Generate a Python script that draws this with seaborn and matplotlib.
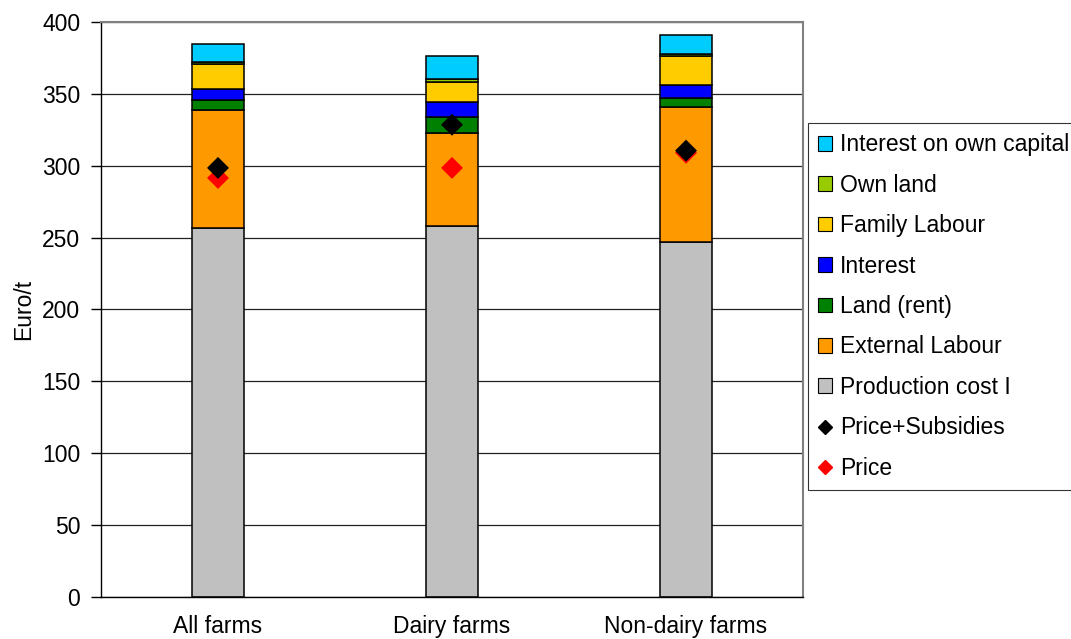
import numpy as np
import pandas as pd
import seaborn as sns
import matplotlib.pyplot as plt
from matplotlib.patches import Patch
from matplotlib.lines import Line2D

# data (Euro/t)
farms = ["All farms", "Dairy farms", "Non-dairy farms"]
production_cost = [257, 258, 247]
external_labour = [81.5, 65, 94]
land_rent = [7.5, 11, 6]
interest = [7.5, 10.5, 9]
family_labour = [17.5, 13.5, 20]
own_land = [1, 2, 1.5]
interest_own_capital = [13, 16, 13.5]
price_subsidies = [298.5, 328.5, 310.5]
price = [291.5, 298.5, 309]

components = [
    ("Production cost I", production_cost, "#C0C0C0"),
    ("External Labour", external_labour, "#FF9900"),
    ("Land (rent)", land_rent, "#008000"),
    ("Interest", interest, "#0000FF"),
    ("Family Labour", family_labour, "#FFCC00"),
    ("Own land", own_land, "#99CC00"),
    ("Interest on own capital", interest_own_capital, "#00CCFF"),
]

sns.set_style("white")
plt.rcParams['font.family'] = ['Liberation Sans', 'DejaVu Sans']
plt.rcParams['font.size'] = 16.5
plt.rcParams['text.color'] = 'black'
plt.rcParams['axes.labelcolor'] = 'black'
plt.rcParams['xtick.color'] = 'black'
plt.rcParams['ytick.color'] = 'black'

fig = plt.figure(figsize=(10.71, 6.39), dpi=100)
ax = fig.add_axes([0.0943, 0.0657, 0.6555, 0.8999])

# stacked bars
bottom = np.zeros(len(farms))
for name, vals, col in components:
    df = pd.DataFrame({"farm": farms, "value": vals})
    sns.barplot(data=df, x="farm", y="value", order=farms, color=col,
                width=0.22, bottom=bottom, edgecolor="black", linewidth=1.1,
                saturation=1, errorbar=None, ax=ax, zorder=2)
    bottom = bottom + np.array(vals)

# price markers
pts = pd.DataFrame({"farm": farms, "ps": price_subsidies, "p": price})
sns.scatterplot(data=pts, x=np.arange(len(farms)), y="p", marker="D", s=125,
                color="#FF0000", edgecolor="none", ax=ax, zorder=3)
sns.scatterplot(data=pts, x=np.arange(len(farms)), y="ps", marker="D", s=125,
                color="black", edgecolor="none", ax=ax, zorder=4)

ax.set_xlim(-0.5, 2.5)
ax.set_ylim(0, 400)
ax.set_yticks(np.arange(0, 401, 50))
ax.set_xticks(range(len(farms)))
ax.set_xticklabels(farms)
ax.set_xticks([-0.5, 0.5, 1.5, 2.5], minor=True)
ax.tick_params(axis="x", which="major", length=0, pad=13)
ax.tick_params(axis="x", which="minor", length=7, width=1, color="black", direction="out")
ax.tick_params(axis="y", length=7, width=1, color="black", direction="out", pad=8, left=True)
ax.set_xlabel("")
ax.set_ylabel("Euro/t", labelpad=5)

ax.yaxis.grid(True, color="#222222", linewidth=0.9)
ax.set_axisbelow(True)
for s in ["top", "right"]:
    ax.spines[s].set_color("#808080")
    ax.spines[s].set_linewidth(1.5)
for s in ["left", "bottom"]:
    ax.spines[s].set_color("black")
    ax.spines[s].set_linewidth(1)

# legend, same order as the reference
handles = [Patch(facecolor=col, edgecolor="black", linewidth=0.8, label=name)
           for name, vals, col in reversed(components)]
handles.append(Line2D([], [], marker="D", color="black", linestyle="none",
                      markersize=7, label="Price+Subsidies"))
handles.append(Line2D([], [], marker="D", color="#FF0000", linestyle="none",
                      markersize=7, label="Price"))
leg = fig.legend(handles=handles, loc="upper left",
                 bbox_to_anchor=(808 / 1071, 1 - 123 / 639),
                 frameon=True, fancybox=False, edgecolor="black",
                 handlelength=0.6, handleheight=0.6, handletextpad=0.35,
                 labelspacing=0.76, borderpad=0.45, borderaxespad=0)
leg.get_frame().set_linewidth(0.8)

fig.savefig("out.png", dpi=100)
